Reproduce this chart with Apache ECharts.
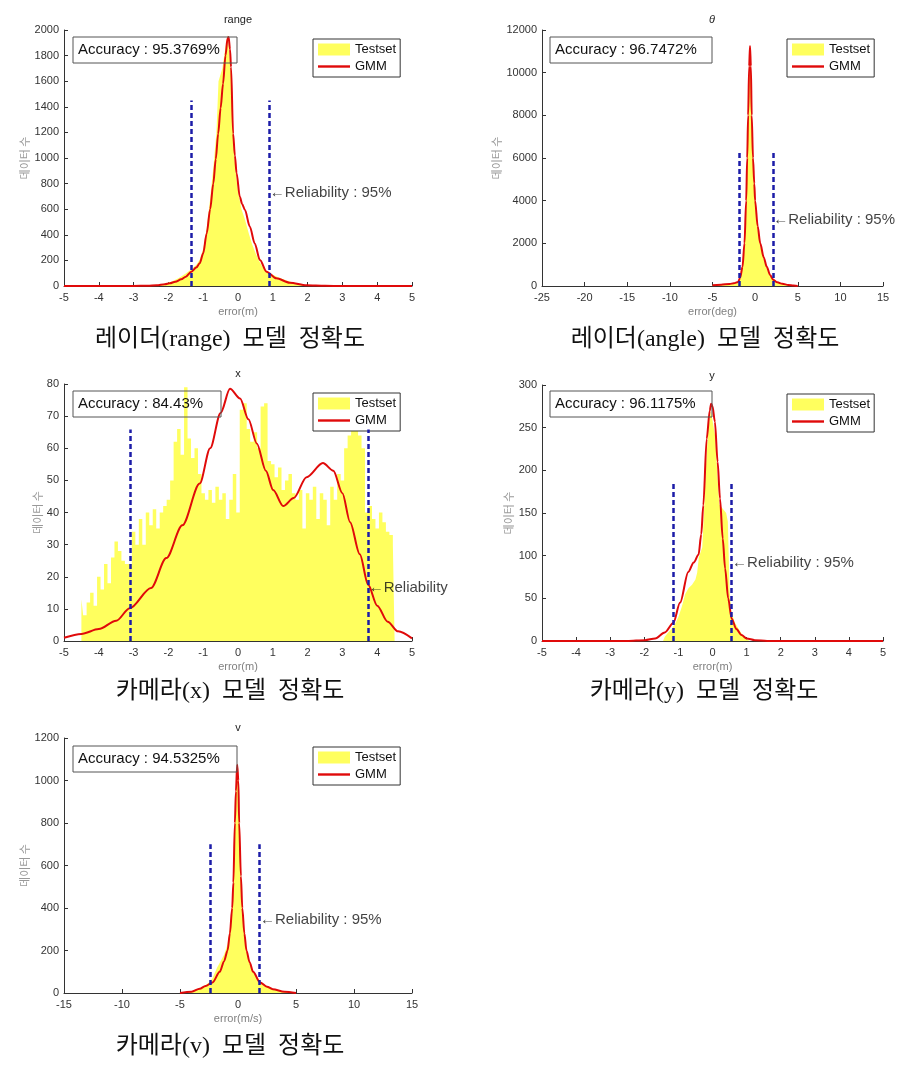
<!DOCTYPE html>
<html>
<head>
<meta charset="utf-8">
<script src="https://cdn.jsdelivr.net/npm/echarts@6/dist/echarts.min.js"></script>
<style>
html,body{margin:0;padding:0;background:#fff;}
#chart{width:910px;height:1077px;}
</style>
</head>
<body>
<div id="chart"></div>
<script>
// ---------------- DATA ----------------
// Panel 1: radar range error (m)
const rangeTestset = [[-2.3,5],[-2.1,18],[-1.9,35],[-1.7,62],[-1.5,98],[-1.35,128],[-1.2,165],[-1.1,205],[-1.0,290],[-0.9,450],[-0.8,680],[-0.7,950],[-0.62,1200],[-0.56,1600],[-0.45,1700],[-0.35,1880],[-0.3,1960],[-0.25,1950],[-0.2,1650],[-0.15,1250],[-0.1,1000],[-0.05,850],[0,740],[0.1,600],[0.2,520],[0.3,420],[0.4,330],[0.5,260],[0.6,200],[0.7,150],[0.8,120],[0.9,100],[1.0,88],[1.2,62],[1.4,42],[1.6,26],[1.8,13],[2.0,4],[2.1,0]];
const rangeGMM = [[-5,0],[-3,0],[-2.6,2],[-2.34,5],[-2.1,13],[-1.96,21],[-1.8,33],[-1.63,52],[-1.5,72],[-1.34,112],[-1.2,145],[-1.1,177],[-1.0,255],[-0.9,410],[-0.8,600],[-0.71,800],[-0.64,990],[-0.57,1190],[-0.5,1390],[-0.43,1580],[-0.36,1800],[-0.3,1935],[-0.27,1945],[-0.23,1850],[-0.2,1710],[-0.14,1190],[-0.09,1020],[-0.04,880],[0.05,700],[0.12,640],[0.2,594],[0.34,463],[0.48,333],[0.63,203],[0.82,112],[1.1,60],[1.49,26],[1.97,5],[2.5,1],[3,0],[5,0]];
const rangeReliability = [-1.33, 0.90];
const rangeReliabilityTop = 1450;
const rangeLabelPoint = [0.90, 727];

// Panel 2: radar angle error (deg)
const angleTestset = [[-5,30],[-4,50],[-3,80],[-2.5,110],[-2,170],[-1.75,350],[-1.5,800],[-1.25,1800],[-1.05,3700],[-0.93,5600],[-0.82,7600],[-0.7,9800],[-0.6,11000],[-0.5,10000],[-0.4,7600],[-0.25,5700],[-0.1,4500],[0,3800],[0.3,2650],[0.6,1900],[1.0,1250],[1.37,820],[1.75,470],[2.15,250],[2.6,150],[3.2,90],[3.9,45],[4.5,18],[5,5]];
const angleGMM = [[-5,40],[-4,60],[-3,95],[-2.5,130],[-2,190],[-1.75,400],[-1.48,900],[-1.25,2000],[-1.05,4000],[-0.93,6000],[-0.82,8000],[-0.7,10300],[-0.6,11250],[-0.5,10300],[-0.4,8000],[-0.25,6000],[-0.1,4800],[0,4000],[0.3,2800],[0.6,2000],[1.0,1350],[1.37,900],[1.75,520],[2.15,280],[2.6,170],[3.2,100],[3.9,50],[4.5,20],[5,5]];
const angleReliability = [-1.84, 2.07];
const angleReliabilityTop = 6300;
const angleLabelPoint = [2.07, 3094];

// Panel 3: camera x error (m) histogram bins
const xBins = [-4.5,-4.4,-4.3,-4.2,-4.1,-4.0,-3.9,-3.8,-3.7,-3.6,-3.5,-3.4,-3.3,-3.2,-3.1,-3.0,-2.9,-2.8,-2.7,-2.6,-2.5,-2.4,-2.3,-2.2,-2.1,-2.0,-1.9,-1.8,-1.7,-1.6,-1.5,-1.4,-1.3,-1.2,-1.1,-1.0,-0.9,-0.8,-0.7,-0.6,-0.5,-0.4,-0.3,-0.2,-0.1,0.0,0.1,0.2,0.3,0.4,0.5,0.6,0.7,0.8,0.9,1.0,1.1,1.2,1.3,1.4,1.5,1.6,1.7,1.8,1.9,2.0,2.1,2.2,2.3,2.4,2.5,2.6,2.7,2.8,2.9,3.0,3.1,3.2,3.3,3.4,3.5,3.6,3.7,3.8,3.9,4.0,4.1,4.2,4.3,4.4,4.5];
const xCounts = [13,8,12,15,11,20,16,24,18,26,31,28,25,24,24,34,30,38,30,40,36,41,35,40,42,44,50,62,66,58,79,63,57,60,52,46,44,47,43,48,44,46,38,44,52,40,72,74,66,62,65,60,73,74,56,55,51,54,47,50,52,46,44,47,35,46,44,48,38,46,44,36,48,44,52,50,60,64,67,66,64,60,40,42,38,35,40,37,34,33,30];
const xGMM = [[-5,1],[-4.5,2.2],[-4,3.7],[-3.5,6.3],[-3.11,10.2],[-2.5,16.5],[-2.06,25.8],[-1.6,36],[-1.1,49],[-0.8,60],[-0.5,71],[-0.23,78.5],[0.06,75.5],[0.3,69],[0.54,61.5],[0.8,53],[1.01,47],[1.3,42],[1.6,44.5],[1.97,51],[2.44,55.4],[2.74,53],[3.0,46],[3.22,37],[3.5,27],[3.74,17.5],[4.0,11],[4.3,6],[4.6,3],[5,0.8]];
const xReliability = [-3.11, 3.74];
const xReliabilityTop = 65.8;
const xLabelPoint = [3.74, 16.5];

// Panel 4: camera y error (m)
const yTestset = [[-1.45,0],[-1.4,5],[-1.3,10],[-1.2,14],[-1.1,20],[-1.0,28],[-0.9,40],[-0.8,55],[-0.7,62],[-0.6,66],[-0.5,72],[-0.45,80],[-0.4,98],[-0.3,110],[-0.25,150],[-0.2,200],[-0.12,250],[-0.05,270],[0.0,272],[0.08,240],[0.15,190],[0.2,160],[0.3,155],[0.4,150],[0.45,140],[0.5,60],[0.55,35],[0.65,22],[0.8,12],[0.9,6],[1.0,2],[1.1,0]];
const yGMM = [[-5,0],[-2.5,0],[-1.98,1],[-1.68,3],[-1.4,10],[-1.15,21],[-0.95,45],[-0.71,81],[-0.55,92],[-0.41,101],[-0.33,125],[-0.27,159],[-0.17,237],[-0.08,270],[-0.04,278],[0.0,275],[0.07,257],[0.15,210],[0.22,167],[0.3,120],[0.37,85],[0.46,50],[0.56,26.5],[0.7,14],[0.85,7],[1.0,3],[1.24,1],[1.6,0],[5,0]];
const yReliability = [-1.15, 0.56];
const yReliabilityTop = 185;
const yLabelPoint = [0.56, 91];

// Panel 5: camera v error (m/s)
const vTestset = [[-5,0],[-4,8],[-3,28],[-2.5,50],[-2.2,70],[-1.8,120],[-1.5,150],[-1.2,180],[-0.9,230],[-0.7,300],[-0.5,420],[-0.35,600],[-0.25,800],[-0.15,980],[-0.05,1060],[0.05,960],[0.12,760],[0.25,520],[0.37,380],[0.55,270],[0.73,195],[1.0,140],[1.3,100],[1.9,55],[2.5,30],[3,18],[4,6],[5,0]];
const vGMM = [[-5,0],[-4,6],[-3.3,20],[-2.8,33],[-2.2,50],[-1.57,100],[-1.2,150],[-0.9,200],[-0.7,280],[-0.5,400],[-0.4,520],[-0.27,800],[-0.18,950],[-0.07,1074],[0.03,1000],[0.1,800],[0.25,550],[0.37,400],[0.55,280],[0.73,200],[1.0,145],[1.3,100],[1.9,50],[2.5,30],[3,18],[4,6],[5,0]];
const vReliability = [-2.37, 1.85];
const vReliabilityTop = 700;
const vLabelPoint = [1.85, 343];

// Text
const panelTitles = ['range', 'θ', 'x', 'y', 'v'];
const xAxisNames = ['error(m)', 'error(deg)', 'error(m)', 'error(m)', 'error(m/s)'];
const yAxisName = '데이터 수';
const accuracyTexts = ['Accuracy : 95.3769%', 'Accuracy : 96.7472%', 'Accuracy : 84.43%', 'Accuracy : 96.1175%', 'Accuracy : 94.5325%'];
const reliabilityTexts = ['←Reliability : 95%', '←Reliability : 95%', '←Reliability', '←Reliability : 95%', '←Reliability : 95%'];
const captions = ['레이더(range)  모델  정확도', '레이더(angle)  모델  정확도', '카메라(x)  모델  정확도', '카메라(y)  모델  정확도', '카메라(v)  모델  정확도'];
const legendNames = ['Testset', 'GMM'];

// Axis ranges
const xRanges = [[-5,5,1],[-25,15,5],[-5,5,1],[-5,5,1],[-15,15,5]];
const yRanges = [[0,2000,200],[0,12000,2000],[0,80,10],[0,300,50],[0,1200,200]];

// ---------------- LAYOUT ----------------
const grids = [
  {left:64, top:30, width:348, height:256},
  {left:542, top:30, width:341, height:256},
  {left:64, top:384, width:348, height:257},
  {left:542, top:385, width:341, height:256},
  {left:64, top:738, width:348, height:255}
];
const yNameGaps = [28, 35, 21, 27, 28];
const accBoxes = [[73,37,164],[550,37,162],[73,391,148],[550,391,162],[73,746,164]];
const legendPos = [[313,39],[787,39],[313,393],[787,394],[313,747]];
const titlePos = [[238,20],[712,20],[238,374],[712,376],[238,728]];
const captionPos = [[230,340],[705,340],[230,692],[704,692],[230,1047]];

const YELLOW = '#ffff5e';
const RED = '#e00a0a';
const BLUE = '#1c1ca8';
const FONT = '"Liberation Sans", Arial, sans-serif';

const testsets = [rangeTestset, angleTestset, xBins.map((b,i)=>[b, xCounts[i]]), yTestset, vTestset];
const gmms = [rangeGMM, angleGMM, xGMM, yGMM, vGMM];
const rels = [rangeReliability, angleReliability, xReliability, yReliability, vReliability];
const relTops = [rangeReliabilityTop, angleReliabilityTop, xReliabilityTop, yReliabilityTop, vReliabilityTop];
const labelPts = [rangeLabelPoint, angleLabelPoint, xLabelPoint, yLabelPoint, vLabelPoint];

const option = {animation:false, grid:[], xAxis:[], yAxis:[], series:[], legend:[], graphic:[]};
const plain = v => String(v);

for (let i = 0; i < 5; i++) {
  option.grid.push(Object.assign({containLabel:false}, grids[i]));
  option.xAxis.push({
    type:'value', gridIndex:i, min:xRanges[i][0], max:xRanges[i][1], interval:xRanges[i][2],
    name:xAxisNames[i], nameLocation:'middle', nameGap:20,
    nameTextStyle:{color:'#808080', fontSize:11, fontFamily:FONT},
    axisLine:{onZero:false, lineStyle:{color:'#333', width:1}},
    axisTick:{show:true, inside:true, length:4, lineStyle:{color:'#333'}},
    axisLabel:{color:'#333', fontSize:11, fontFamily:FONT, margin:6, formatter:plain},
    splitLine:{show:false}
  });
  option.yAxis.push({
    type:'value', gridIndex:i, min:yRanges[i][0], max:yRanges[i][1], interval:yRanges[i][2],
    name:yAxisName, nameLocation:'middle', nameGap:yNameGaps[i],
    nameTextStyle:{color:'#999', fontSize:11, fontFamily:'"Noto Sans CJK KR", sans-serif'},
    axisLine:{show:true, onZero:false, lineStyle:{color:'#333', width:1}},
    axisTick:{show:true, inside:true, length:4, lineStyle:{color:'#333'}},
    axisLabel:{color:'#333', fontSize:11, fontFamily:FONT, margin:5, formatter:plain},
    splitLine:{show:false}
  });
  option.series.push({
    name:'Testset', type:'line', xAxisIndex:i, yAxisIndex:i, data:testsets[i],
    step: i === 2 ? 'middle' : false, symbol:'none', showSymbol:false,
    lineStyle:{width:0, color:YELLOW}, itemStyle:{color:YELLOW},
    areaStyle:{color:YELLOW, opacity:1}, z:1, silent:true
  });
  option.series.push({
    name:'GMM', type:'line', xAxisIndex:i, yAxisIndex:i, data:gmms[i],
    smooth:0.3, smoothMonotone:'x', symbol:'none', showSymbol:false,
    lineStyle:{width:2, color:RED}, itemStyle:{color:RED}, z:3, silent:true,
    markLine:{
      silent:true, symbol:['none','none'], label:{show:false}, animation:false,
      lineStyle:{color:BLUE, width:2.5, type:[5,3]},
      data: rels[i].map(x => [{coord:[x,0]},{coord:[x,relTops[i]]}])
    }
  });
  option.series.push({
    name:'ReliabilityLabel', type:'scatter', xAxisIndex:i, yAxisIndex:i, data:[labelPts[i]],
    symbolSize:1, itemStyle:{color:'transparent'}, z:5, silent:true,
    label:{show:true, position:'right', distance:0, formatter:reliabilityTexts[i],
      color:'#111', fontSize:15, fontFamily:FONT}
  });
  option.legend.push({
    left:legendPos[i][0], top:legendPos[i][1], orient:'vertical',
    data:[{name:legendNames[0], icon:'rect'}, {name:legendNames[1], icon:'path://M0,0H32V2.4H0Z'}],
    itemWidth:32, itemHeight:12, itemGap:4, padding:[4,4,4,5],
    borderColor:'#333', borderWidth:1, backgroundColor:'#fff', selectedMode:false,
    textStyle:{fontSize:13, color:'#111', fontFamily:FONT}
  });
  const b = accBoxes[i];
  option.graphic.push({type:'rect', z:50, shape:{x:b[0], y:b[1], width:b[2], height:26},
    style:{fill:'none', stroke:'#555', lineWidth:1}});
  option.graphic.push({type:'text', z:51, x:b[0]+5, y:b[1]+13,
    style:{text:accuracyTexts[i], font:'15px ' + FONT, fill:'#111', verticalAlign:'middle', align:'left'}});
  option.graphic.push({type:'text', z:51, x:titlePos[i][0], y:titlePos[i][1],
    style:{text:panelTitles[i], font:(i===1?'italic ':'') + '11px ' + FONT, fill:'#222', verticalAlign:'middle', align:'center'}});
  option.graphic.push({type:'text', z:51, x:captionPos[i][0], y:captionPos[i][1],
    style:{text:captions[i], font:'24px "Liberation Serif", "Noto Sans CJK KR", serif', fill:'#111', verticalAlign:'middle', align:'center'}});
}

const chart = echarts.init(document.getElementById('chart'), null, {renderer:'canvas'});
chart.setOption(option);
</script>
</body>
</html>
